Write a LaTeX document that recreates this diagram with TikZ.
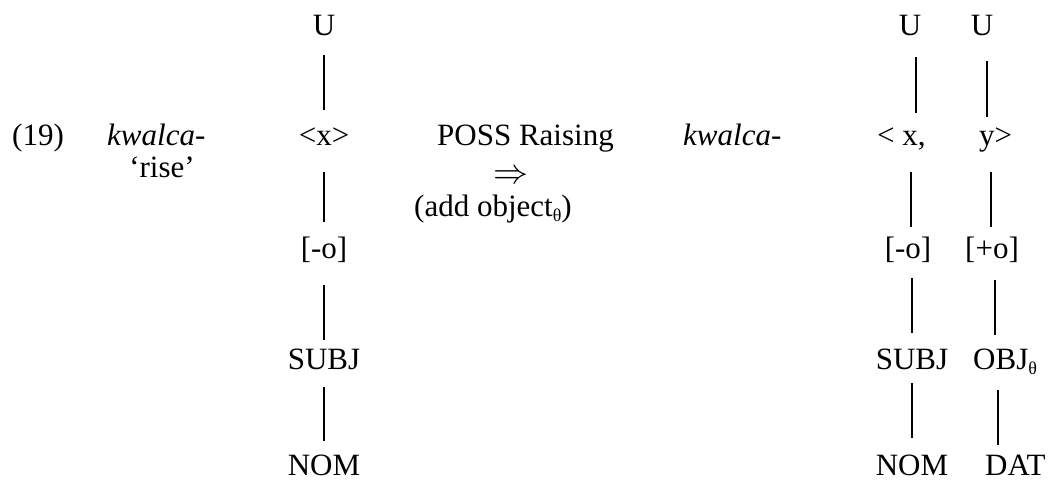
\documentclass[tikz,border=0pt]{standalone}
\usepackage{fontspec}
\setmainfont{Liberation Serif}
\begin{document}
\begin{tikzpicture}[x=1pt,y=-1pt,
  txt/.style={inner sep=0pt, font=\fontsize{31}{37}\selectfont},
  cell/.style={txt, text height=22pt, text depth=6pt},
  lastcell/.style={cell, text depth=0pt},
  link/.style={line width=1.8pt}]
\useasboundingbox (0,0) rectangle (1051,481);

% example number, verb and gloss
\node[txt, anchor=base west] (num) at (12,146) {(19)};
\node[txt, anchor=base west] (verbL) at (107,146) {\textit{kwalca}-};
\node[txt, anchor=base] (gloss) at (162,178) {‘rise’};

% left column: one argument
\node[cell, anchor=base] (uL) at (324,36) {U};
\node[cell, anchor=base] (xL) at (324,146) {<x>};
\node[cell, anchor=base] (mL) at (324,258) {[-o]};
\node[cell, anchor=base] (sL) at (324,369) {SUBJ};
\node[lastcell, anchor=base] (nL) at (324,475) {NOM};

\draw[link] ([yshift=-13pt]uL.south) -- ([yshift=14pt]xL.north);
\draw[link] ([yshift=-20pt]xL.south) -- ([yshift=14pt]mL.north);
\draw[link] ([yshift=-21pt]mL.south) -- ([yshift=7pt]sL.north);
\draw[link] ([yshift=-12pt]sL.south) -- ([yshift=12pt]nL.north);

% the rule
\node[txt, anchor=base west] (rule) at (437,146) {POSS Raising};
\node[txt, anchor=center] (arrow) at (511,177) {\resizebox{35pt}{!}{$\Rightarrow$}};
\node[txt, anchor=base] (addobj) at (493,216) {(add object\raisebox{-5pt}{\fontsize{18}{18}\selectfont θ})};

% derived verb
\node[txt, anchor=base west] (verbR) at (683,146) {\textit{kwalca}-};

% right columns: two arguments
\node[cell, anchor=base] (uR1) at (910,36) {U};
\node[cell, anchor=base] (uR2) at (982,36) {U};
\node[cell, anchor=base west] (xR) at (877,146) {< x,};
\node[cell, anchor=base west] (yR) at (979,146) {y>};
\node[cell, anchor=base] (mR) at (908,258) {[-o]};
\node[cell, anchor=base] (pR) at (992,258) {[+o]};
\node[cell, anchor=base] (sR) at (912,369) {SUBJ};
\node[cell, anchor=base west] (oR) at (973,369) {OBJ\raisebox{-5pt}{\fontsize{18}{18}\selectfont θ}};
\node[lastcell, anchor=base] (nR) at (912,475) {NOM};
\node[lastcell, anchor=base west] (dR) at (985,475) {DAT};

\draw[link] ([xshift=6pt,yshift=-15pt]uR1.south) -- ([xshift=39pt,yshift=11pt]xR.north west);
\draw[link] ([xshift=34pt,yshift=-20pt]xR.south west) -- ([xshift=3pt,yshift=9pt]mR.north);
\draw[link] ([xshift=4pt,yshift=-14pt]mR.south) -- ([yshift=14pt]sR.north);
\draw[link] ([yshift=-8pt]sR.south) -- ([yshift=15pt]nR.north);

\draw[link] ([xshift=5pt,yshift=-19pt]uR2.south) -- ([xshift=8pt,yshift=7pt]yR.north west);
\draw[link] ([xshift=12pt,yshift=-20pt]yR.south west) -- ([xshift=-1pt,yshift=9pt]pR.north);
\draw[link] ([xshift=3pt,yshift=-16pt]pR.south) -- ([xshift=22pt,yshift=12pt]oR.north west);
\draw[link] ([xshift=25pt,yshift=-15pt]oR.south west) -- ([xshift=13pt,yshift=8pt]dR.north west);
\end{tikzpicture}
\end{document}
